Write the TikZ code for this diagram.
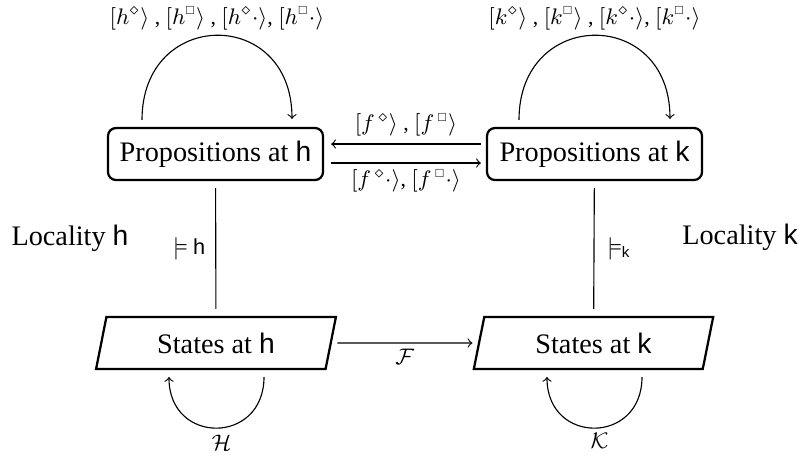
\documentclass[tikz,border=0pt]{standalone}
\usepackage{amsmath}
\usepackage{amssymb}
\usepackage{fontspec}
\setmainfont{Liberation Serif}
\setsansfont{Liberation Sans}
\usetikzlibrary{shapes.geometric,calc}
\newcommand{\smbox}{\mbox{\scalebox{0.7}{$\scriptstyle\square$}}}
\tikzset{
  x=0.4pt, y=-0.4pt,
  every node/.style={font=\fontsize{11.3}{13.5}\selectfont},
  lbl/.style={font=\fontsize{8.7}{10.5}\selectfont, inner sep=1pt},
  propbox/.style={draw, rounded corners=3.2pt, line width=0.9pt, minimum width=86pt, minimum height=20.8pt, inner sep=0pt},
  statebox/.style={draw, trapezium, trapezium left angle=75, trapezium right angle=105, trapezium stretches=true, line width=0.9pt, minimum width=96pt, minimum height=20.8pt, inner sep=0pt},
  conn/.style={line width=0.45pt},
}
\begin{document}
\begin{tikzpicture}
\useasboundingbox (0,0) rectangle (801,456);
\node[propbox] (ph) at (215.5,154) {Propositions at \textsf{h}};
\node[propbox] (pk) at (594.5,154) {Propositions at \textsf{k}};
\node[statebox] (sh) at (216,343) {States at \textsf{h}};
\node[statebox] (sk) at (593.5,343) {States at \textsf{k}};
\node (loch) at (70,238) {Locality \textsf{h}};
\node (lock) at (740,237) {Locality \textsf{k}};
% loops on propositions
\draw[conn,->] ($(ph.north)+(-73.5,-7)$) .. controls +(0,-112) and +(0,-112) .. ($(ph.north)+(76.5,-8)$)
  node[lbl, pos=0.5, yshift=6.8pt] {$[h^{\diamond}\rangle$ , $[h^{\smbox}\rangle$ , $[h^{\diamond}{\cdot}\rangle$, $[h^{\smbox}{\cdot}\rangle$};
\draw[conn,->] ($(pk.north)+(-75.5,-7)$) .. controls +(0,-112) and +(0,-112) .. ($(pk.north)+(75.5,-8)$)
  node[lbl, pos=0.5, yshift=6.8pt] {$[k^{\diamond}\rangle$ , $[k^{\smbox}\rangle$ , $[k^{\diamond}{\cdot}\rangle$, $[k^{\smbox}{\cdot}\rangle$};
% horizontal arrows between propositions
\draw[conn,->] ($(pk.west)+(-5,-10)$) -- ($(ph.east)+(7,-10)$)
  node[lbl, midway, yshift=7.6pt] {$[f^{\,\diamond}\rangle$ , $[f^{\,\smbox}\rangle$};
\draw[conn,->] ($(ph.east)+(7,9)$) -- ($(pk.west)+(-5,9)$)
  node[lbl, midway, yshift=-7.2pt] {$[f^{\,\diamond}{\cdot}\rangle$, $[f^{\,\smbox}{\cdot}\rangle$};
% satisfaction lines
\draw[conn, shorten <=2.8pt, shorten >=2.8pt] (ph) -- (sh)
  node[lbl, midway, left=3pt] {$\models$ \textsf{h}};
\draw[conn, shorten <=2.8pt, shorten >=2.8pt] (pk) -- (sk)
  node[lbl, midway, right=4pt] {$\models_{\text{\sffamily k}}$};
% F arrow
\draw[conn,->, shorten <=2.2pt, shorten >=2.2pt] (sh) -- (sk)
  node[lbl, midway, yshift=-5.6pt] {$\mathcal{F}$};
% loops on states
\draw[conn,->] ($(sh.center)+(48,34)$) .. controls +(0,68) and +(0,68) .. ($(sh.center)+(-47,34)$)
  node[lbl, pos=0.5, xshift=2pt, yshift=-6pt] {$\mathcal{H}$};
\draw[conn,->] ($(sk.center)+(48.5,34)$) .. controls +(0,68) and +(0,68) .. ($(sk.center)+(-46.5,34)$)
  node[lbl, pos=0.5, xshift=2pt, yshift=-5.2pt] {$\mathcal{K}$};
\end{tikzpicture}
\end{document}
